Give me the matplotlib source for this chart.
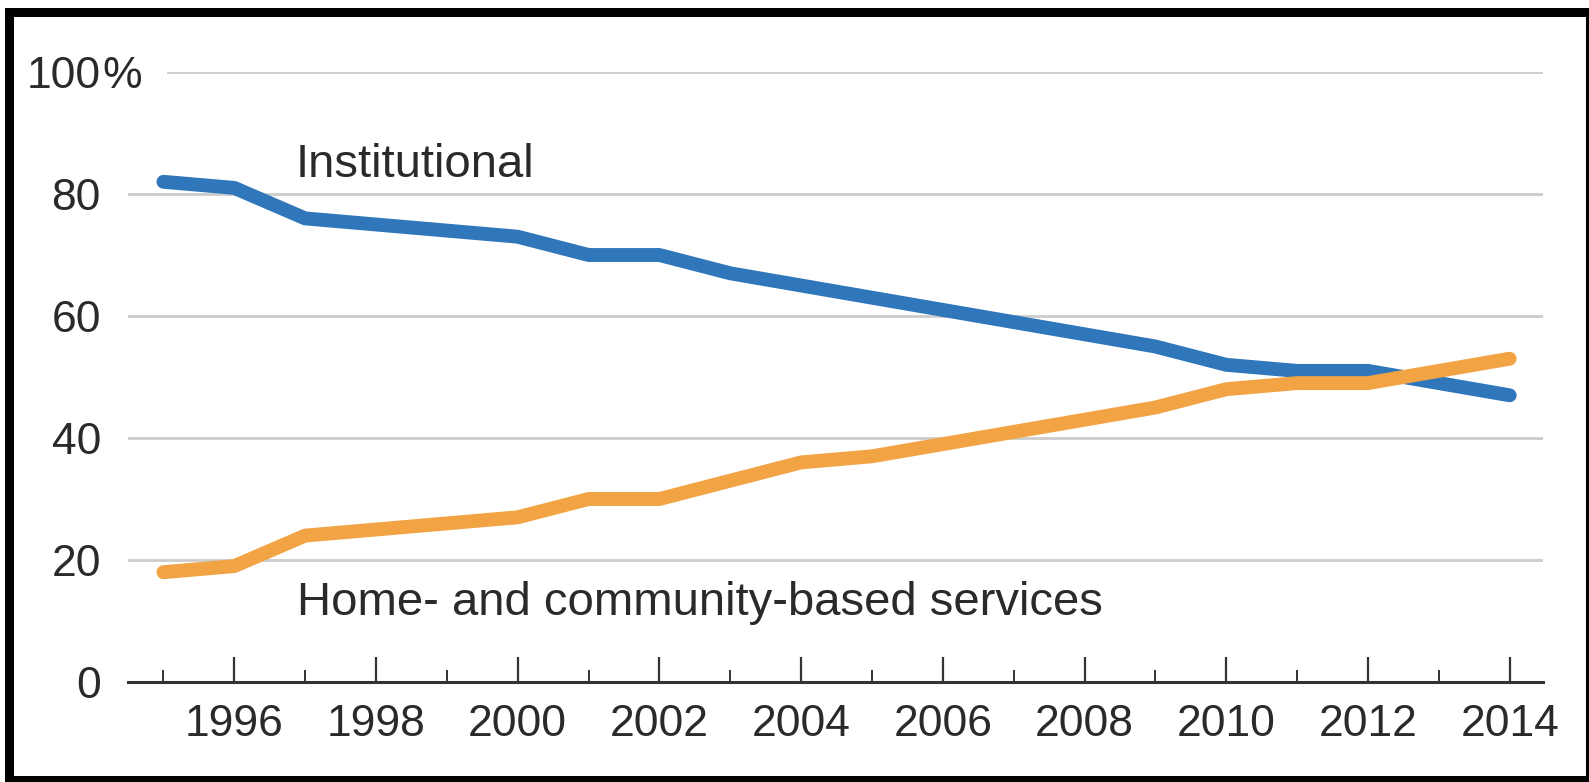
import matplotlib
matplotlib.use("Agg")
import matplotlib.pyplot as plt
from matplotlib.patches import Rectangle
from matplotlib.ticker import MultipleLocator

# data (share of spending, %)
years = list(range(1995, 2015))
institutional = [82, 81, 76, 75, 74, 73, 70, 70, 67, 65, 63, 61, 59, 57, 55, 52, 51, 51, 49, 47]
home_community = [18, 19, 24, 25, 26, 27, 30, 30, 33, 36, 37, 39, 41, 43, 45, 48, 49, 49, 51, 53]
y_ticks = [0, 20, 40, 60, 80, 100]
x_ticks = list(range(1996, 2015, 2))

plt.rcParams['font.family'] = ['Liberation Sans Narrow', 'Liberation Sans', 'DejaVu Sans']

W, H = 1589, 782
fig = plt.figure(figsize=(W / 100, H / 100), dpi=100)
ax = fig.add_axes([128 / W, 1 - 682 / H, (1543 - 128) / W, (682 - 72) / H])

BLUE = '#2f76bb'
ORANGE = '#f2a444'
TXT = '#2a2a2a'
TICK_FS = 32

ax.plot(years, institutional, color=BLUE, lw=10, solid_capstyle='round', solid_joinstyle='round', zorder=3)
ax.plot(years, home_community, color=ORANGE, lw=10, solid_capstyle='round', solid_joinstyle='round', zorder=3)

ax.set_xlim(1994.5, 2014.47)
ax.set_ylim(0, 100)

# gridlines (top one starts a bit right, clear of the "100%" label)
for v in y_ticks[1:]:
    ax.axhline(v, xmin=0.028 if v == 100 else 0, color='#cccccc', lw=2, zorder=1)

ax.set_yticks(y_ticks)
ax.set_yticklabels([str(v) for v in y_ticks])
ax.tick_params(axis='y', length=0, pad=19.5, labelsize=TICK_FS, labelcolor=TXT)

ax.set_xticks(x_ticks)
ax.set_xticklabels([str(v) for v in x_ticks])
ax.xaxis.set_minor_locator(MultipleLocator(2, offset=1))
ax.tick_params(axis='x', which='major', direction='in', length=18, width=1.6, color='#333333',
               pad=16, labelsize=TICK_FS, labelcolor=TXT)
ax.tick_params(axis='x', which='minor', direction='in', length=9, width=1.4, color='#333333')

for s in ['top', 'right', 'left']:
    ax.spines[s].set_visible(False)
ax.spines['bottom'].set_color('#333333')
ax.spines['bottom'].set_linewidth(2.2)

# percent sign hanging after the top label
ax.annotate('%', xy=(0, 100), xycoords=('axes fraction', 'data'), xytext=(-26, 0),
            textcoords='offset pixels', ha='left', va='center_baseline', fontsize=TICK_FS,
            color=TXT, annotation_clip=False)

ax.text(1996.86, 82.8, 'Institutional', fontsize=34, color=TXT, va='baseline', ha='left')
ax.text(1996.89, 11.0, 'Home- and community-based services', fontsize=34, color=TXT, va='baseline', ha='left')

# thick black frame around the picture
fig.add_artist(Rectangle((8.5 / W, 2.5 / H), (1589.5 - 8.5) / W, (779.5 - 12) / H,
                         transform=fig.transFigure, fill=False, ec='black', lw=6.5, clip_on=False))

fig.savefig('out.png', dpi=100, facecolor='white')
